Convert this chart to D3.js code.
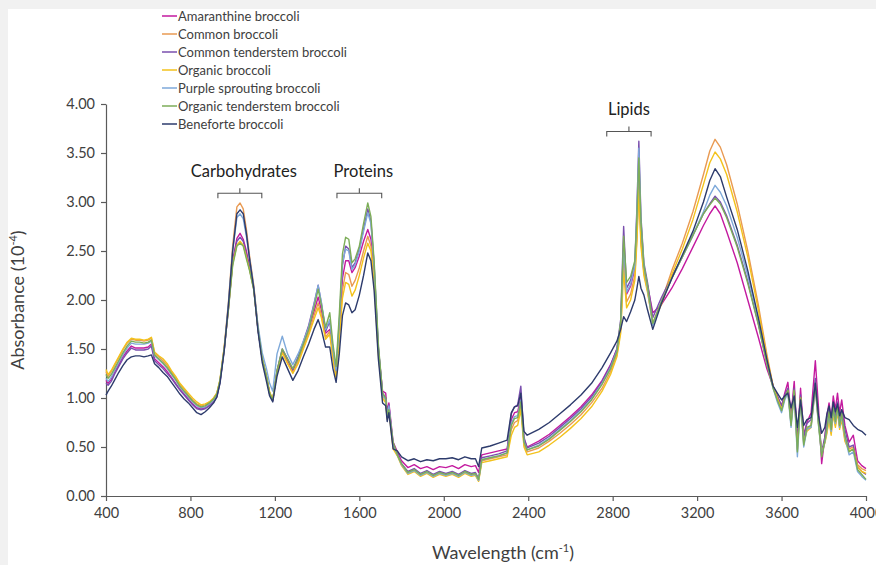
<!DOCTYPE html>
<html>
<head>
<meta charset="utf-8">
<script src="https://cdn.jsdelivr.net/npm/d3@7"></script>
<style>
  html, body { margin: 0; padding: 0; background: #f1f1f1; }
  svg { display: block; }
</style>
</head>
<body>
<svg id="chart" width="876" height="565"></svg>
<script>
// Wavenumber grid shared by all spectra (cm-1)
const wavenumbers = [
  400,410,425,440,460,480,500,520,540,560,580,600,615,630,650,670,690,710,730,750,770,790,810,830,850,870,890,910,925,
  940,960,980,1000,1020,1035,1050,1065,1080,1100,1120,1140,1160,1175,1190,
  1210,1235,1260,1285,1310,1335,1360,1385,1405,1420,1440,1460,1475,1490,1505,1520,1535,1550,1565,1580,1600,1620,1640,1655,1670,1690,1710,1725,1732,1740,1760,
  1780,1800,1830,1860,1890,1920,1950,1980,2010,2040,2070,2100,2130,2150,2165,2180,2220,2260,2300,2320,2335,2350,2365,2380,2395,
  2450,2500,2550,2600,2650,2700,2750,2790,2820,2838,2852,2866,2885,2905,2915,2924,2934,2948,2965,2990,
  3030,3080,3130,3180,3230,3260,3285,3310,3340,3390,3440,3490,3530,
  3560,3580,3600,3615,3630,3645,3660,3675,3690,3705,3720,3740,3760,3775,3790,3805,3815,3825,3835,3845,3855,3865,3875,3885,3900,3920,3940,3960,3980,4000
];

// Absorbance (x 10^-4) for each broccoli type
const amaranthine = [
  1.18,1.15,1.19,1.26,1.34,1.42,1.48,1.53,1.51,1.51,1.51,1.52,1.55,1.40,1.36,1.32,1.27,1.21,1.15,1.09,1.04,0.99,0.94,0.90,0.89,0.90,0.93,0.97,1.02,
  1.17,1.50,1.92,2.40,2.63,2.68,2.62,2.50,2.34,2.12,1.70,1.40,1.22,1.05,0.98,
  1.27,1.48,1.38,1.28,1.40,1.55,1.70,1.88,2.03,1.90,1.66,1.70,1.45,1.25,1.68,2.22,2.40,2.40,2.28,2.33,2.45,2.60,2.72,2.62,2.28,1.50,1.07,1.05,0.86,0.95,0.55,
  0.45,0.36,0.29,0.32,0.28,0.30,0.27,0.30,0.29,0.31,0.28,0.32,0.30,0.31,0.24,0.42,0.44,0.46,0.48,0.78,0.85,0.86,1.00,0.58,0.50,
  0.56,0.63,0.72,0.81,0.91,1.03,1.18,1.34,1.50,1.76,2.45,2.06,2.14,2.32,2.70,3.28,2.65,2.30,2.15,1.87,
  1.95,2.12,2.32,2.54,2.76,2.88,2.96,2.88,2.70,2.38,2.00,1.62,1.30,
  1.12,1.02,0.92,1.05,1.16,0.82,1.17,0.55,1.10,0.62,0.75,0.85,1.38,0.90,0.33,0.60,0.82,0.95,0.78,1.02,0.88,1.05,0.85,0.98,0.72,0.55,0.62,0.36,0.31,0.28
];
const commonBroccoli = [
  1.27,1.22,1.27,1.33,1.41,1.49,1.56,1.60,1.59,1.59,1.58,1.59,1.61,1.46,1.42,1.38,1.33,1.27,1.21,1.14,1.09,1.03,0.98,0.94,0.92,0.93,0.96,1.00,1.05,
  1.18,1.52,1.98,2.55,2.95,2.99,2.93,2.72,2.45,2.15,1.72,1.40,1.22,1.05,0.98,
  1.26,1.47,1.36,1.26,1.37,1.52,1.66,1.84,1.97,1.85,1.62,1.68,1.42,1.22,1.62,2.10,2.28,2.26,2.14,2.20,2.33,2.50,2.65,2.55,2.22,1.48,1.02,0.98,0.80,0.90,0.50,
  0.42,0.32,0.23,0.26,0.21,0.24,0.20,0.23,0.21,0.23,0.20,0.24,0.21,0.22,0.16,0.36,0.38,0.40,0.42,0.68,0.75,0.77,0.93,0.52,0.45,
  0.49,0.56,0.64,0.73,0.83,0.95,1.10,1.27,1.44,1.70,2.42,1.98,2.06,2.25,2.65,3.20,2.60,2.28,2.10,1.76,
  1.98,2.30,2.58,2.90,3.28,3.52,3.64,3.56,3.38,2.98,2.50,1.95,1.45,
  1.12,1.00,0.88,1.00,1.08,0.74,1.08,0.48,1.02,0.55,0.68,0.72,1.18,0.75,0.45,0.55,0.66,0.80,0.64,0.86,0.72,0.88,0.70,0.80,0.58,0.48,0.50,0.32,0.28,0.26
];
const commonTenderstem = [
  1.15,1.13,1.17,1.24,1.32,1.40,1.46,1.51,1.49,1.49,1.49,1.50,1.53,1.38,1.34,1.30,1.25,1.20,1.14,1.08,1.03,0.98,0.93,0.89,0.88,0.89,0.92,0.96,1.01,
  1.16,1.49,1.91,2.38,2.60,2.64,2.60,2.47,2.32,2.11,1.70,1.40,1.21,1.04,0.97,
  1.28,1.50,1.40,1.29,1.42,1.58,1.74,1.96,2.15,1.97,1.68,1.78,1.50,1.28,1.75,2.35,2.55,2.52,2.33,2.38,2.52,2.72,2.93,2.80,2.36,1.52,1.05,1.00,0.82,0.93,0.52,
  0.43,0.33,0.25,0.28,0.23,0.26,0.22,0.25,0.23,0.25,0.22,0.26,0.23,0.24,0.18,0.39,0.41,0.43,0.46,0.84,0.91,0.93,1.12,0.60,0.49,
  0.54,0.61,0.70,0.79,0.89,1.01,1.17,1.33,1.50,1.80,2.75,2.12,2.20,2.38,2.95,3.62,2.85,2.38,2.18,1.82,
  2.02,2.24,2.44,2.66,2.88,2.98,3.06,3.00,2.86,2.56,2.19,1.76,1.36,
  1.12,1.02,0.92,1.03,1.10,0.80,1.10,0.55,1.03,0.60,0.74,0.78,1.20,0.80,0.45,0.60,0.76,0.90,0.72,0.95,0.80,0.96,0.78,0.88,0.68,0.50,0.52,0.30,0.25,0.22
];
const organicBroccoli = [
  1.29,1.24,1.28,1.34,1.42,1.50,1.57,1.61,1.60,1.60,1.59,1.60,1.62,1.47,1.43,1.40,1.35,1.28,1.22,1.15,1.10,1.05,1.00,0.96,0.93,0.94,0.96,1.00,1.05,
  1.19,1.52,1.92,2.37,2.56,2.60,2.56,2.44,2.31,2.11,1.71,1.41,1.23,1.06,0.99,
  1.26,1.46,1.35,1.25,1.35,1.50,1.64,1.80,1.92,1.82,1.60,1.65,1.40,1.20,1.58,2.02,2.18,2.16,2.04,2.10,2.25,2.43,2.58,2.50,2.18,1.45,1.00,0.95,0.78,0.88,0.48,
  0.41,0.31,0.22,0.25,0.20,0.23,0.19,0.22,0.20,0.22,0.19,0.23,0.20,0.21,0.15,0.34,0.36,0.38,0.40,0.62,0.70,0.72,0.88,0.50,0.42,
  0.45,0.52,0.60,0.69,0.79,0.91,1.07,1.24,1.42,1.66,2.30,1.92,2.00,2.20,2.60,3.12,2.55,2.25,2.08,1.76,
  1.95,2.26,2.52,2.82,3.18,3.40,3.51,3.44,3.28,2.90,2.44,1.90,1.42,
  1.12,1.00,0.88,1.00,1.07,0.74,1.07,0.47,1.00,0.54,0.66,0.70,1.12,0.73,0.44,0.54,0.64,0.78,0.62,0.84,0.70,0.86,0.68,0.78,0.56,0.46,0.48,0.30,0.25,0.23
];
const purpleSprouting = [
  1.20,1.17,1.21,1.28,1.36,1.44,1.51,1.56,1.55,1.55,1.55,1.56,1.58,1.43,1.39,1.35,1.30,1.24,1.18,1.11,1.06,1.01,0.96,0.92,0.90,0.91,0.94,0.98,1.03,
  1.17,1.50,1.96,2.50,2.84,2.88,2.83,2.65,2.42,2.13,1.74,1.46,1.30,1.15,1.07,
  1.45,1.63,1.45,1.34,1.45,1.58,1.72,1.95,2.15,1.98,1.70,1.80,1.50,1.28,1.78,2.38,2.52,2.50,2.31,2.36,2.50,2.70,2.89,2.78,2.35,1.52,1.03,0.98,0.80,0.92,0.52,
  0.42,0.32,0.23,0.26,0.21,0.24,0.20,0.23,0.21,0.23,0.20,0.24,0.21,0.22,0.16,0.37,0.39,0.41,0.44,0.74,0.81,0.82,0.98,0.55,0.47,
  0.52,0.59,0.68,0.77,0.87,0.99,1.15,1.31,1.48,1.76,2.55,2.08,2.16,2.35,2.90,3.55,2.80,2.35,2.12,1.74,
  1.98,2.22,2.44,2.66,2.90,3.07,3.17,3.10,2.96,2.64,2.25,1.80,1.38,
  1.10,0.96,0.85,0.98,1.05,0.70,1.05,0.40,0.98,0.50,0.68,0.70,1.10,0.72,0.42,0.55,0.68,0.84,0.66,0.88,0.74,0.90,0.70,0.82,0.60,0.42,0.45,0.25,0.20,0.16
];
const organicTenderstem = [
  1.24,1.20,1.24,1.30,1.38,1.46,1.53,1.58,1.57,1.57,1.56,1.57,1.59,1.44,1.40,1.36,1.31,1.25,1.19,1.12,1.07,1.02,0.97,0.93,0.91,0.92,0.95,0.99,1.04,
  1.18,1.50,1.90,2.35,2.55,2.58,2.55,2.42,2.30,2.10,1.70,1.40,1.22,1.05,0.98,
  1.28,1.50,1.40,1.30,1.40,1.55,1.70,1.92,2.11,1.95,1.72,1.87,1.55,1.32,1.85,2.47,2.64,2.62,2.38,2.42,2.55,2.78,2.99,2.85,2.40,1.55,1.05,1.00,0.82,0.88,0.55,
  0.42,0.33,0.24,0.27,0.22,0.25,0.21,0.24,0.22,0.24,0.21,0.25,0.22,0.23,0.17,0.37,0.39,0.41,0.44,0.72,0.79,0.80,0.96,0.55,0.47,
  0.51,0.58,0.67,0.76,0.86,0.98,1.14,1.30,1.47,1.78,2.65,2.18,2.24,2.40,2.85,3.45,2.80,2.35,2.15,1.76,
  1.98,2.22,2.44,2.66,2.88,2.97,3.04,2.98,2.84,2.54,2.17,1.75,1.35,
  1.10,0.98,0.87,1.00,1.08,0.72,1.08,0.45,1.00,0.52,0.70,0.72,1.12,0.75,0.40,0.56,0.70,0.86,0.68,0.90,0.76,0.92,0.72,0.84,0.62,0.45,0.48,0.27,0.22,0.17
];
const beneforte = [
  1.03,1.07,1.12,1.18,1.26,1.33,1.39,1.42,1.43,1.43,1.42,1.43,1.44,1.35,1.31,1.26,1.22,1.16,1.10,1.04,0.99,0.95,0.90,0.85,0.83,0.86,0.90,0.95,1.01,
  1.15,1.48,1.95,2.50,2.88,2.92,2.88,2.68,2.42,2.12,1.68,1.36,1.17,1.02,0.96,
  1.22,1.42,1.30,1.18,1.28,1.42,1.55,1.70,1.80,1.70,1.52,1.52,1.30,1.16,1.45,1.84,1.97,1.95,1.87,1.90,2.05,2.25,2.48,2.40,2.10,1.40,0.95,0.92,0.76,0.85,0.48,
  0.46,0.40,0.36,0.38,0.35,0.37,0.36,0.38,0.38,0.39,0.37,0.40,0.38,0.38,0.30,0.49,0.51,0.54,0.57,0.85,0.91,0.92,1.05,0.66,0.62,
  0.68,0.75,0.84,0.93,1.03,1.15,1.31,1.46,1.58,1.70,1.83,1.78,1.88,2.00,2.12,2.24,2.12,2.05,1.90,1.70,
  1.96,2.22,2.46,2.70,3.00,3.22,3.34,3.26,3.05,2.72,2.30,1.82,1.40,
  1.12,1.05,0.98,1.02,1.05,0.90,1.02,0.70,0.98,0.72,0.78,0.80,1.15,0.82,0.64,0.70,0.84,0.92,0.80,0.96,0.86,0.94,0.82,0.88,0.80,0.78,0.72,0.68,0.66,0.62
];

const seriesNames = [
  "Amaranthine broccoli", "Common broccoli", "Common tenderstem broccoli", "Organic broccoli",
  "Purple sprouting broccoli", "Organic tenderstem broccoli", "Beneforte broccoli"
];
const seriesValues = [amaranthine, commonBroccoli, commonTenderstem, organicBroccoli,
  purpleSprouting, organicTenderstem, beneforte];
const seriesColors = ["#c31a9f", "#e99a52", "#7a4fae", "#f3c21c", "#7ea9da", "#7cad58", "#2d3b6c"];

const xTicks = [400, 800, 1200, 1600, 2000, 2400, 2800, 3200, 3600, 4000];
const yTicks = [0, 0.5, 1, 1.5, 2, 2.5, 3, 3.5, 4];

// Absorption band annotations: label, start and end wavenumber, bracket height (absorbance)
const bandLabels = ["Carbohydrates", "Proteins", "Lipids"];
const bandStart = [930, 1494, 2772];
const bandEnd = [1138, 1706, 2982];
const bandLevel = [3.09, 3.09, 3.72];

const W = 876, H = 565;
const FONT = "Lato, 'Open Sans', sans-serif";
const svg = d3.select("#chart");

// page frame: light grey border at the top and left, white sheet elsewhere
svg.append("rect").attr("width", W).attr("height", H).attr("fill", "#f1f1f1");
svg.append("rect").attr("x", 8).attr("y", 9).attr("width", W - 8).attr("height", H - 9).attr("fill", "#ffffff");

const x = d3.scaleLinear().domain([400, 4000]).range([106, 866]);
const y = d3.scaleLinear().domain([0, 4]).range([496, 104]);

const axisColor = "#5a5a5a";
const textColor = "#404040";

// axes
const gx = svg.append("g")
  .attr("transform", `translate(0,${y(0)})`)
  .call(d3.axisBottom(x).tickValues(xTicks).tickSize(5).tickSizeOuter(0).tickPadding(7).tickFormat(d3.format("d")));
const gy = svg.append("g")
  .attr("transform", `translate(${x(400)},0)`)
  .call(d3.axisLeft(y).tickValues(yTicks).tickSize(5).tickSizeOuter(0).tickPadding(6).tickFormat(d3.format(".2f")));
[gx, gy].forEach(g => {
  g.select(".domain").attr("stroke", axisColor).attr("stroke-width", 1.2);
  g.selectAll(".tick line").attr("stroke", axisColor).attr("stroke-width", 1.2);
  g.selectAll(".tick text").attr("fill", textColor).style("font-family", FONT).style("font-size", "14.5px");
});

// spectra, drawn in legend order
const line = d3.line()
  .x((d, i) => x(wavenumbers[i]))
  .y(d => y(d));
const plot = svg.append("g");
seriesValues.forEach((vals, k) => {
  plot.append("path")
    .datum(vals)
    .attr("fill", "none")
    .attr("stroke", seriesColors[k])
    .attr("stroke-width", 1.4)
    .attr("stroke-linejoin", "round")
    .attr("d", line);
});

// band brackets and labels
bandLabels.forEach((lab, i) => {
  const x0 = x(bandStart[i]), x1 = x(bandEnd[i]), yb = y(bandLevel[i]);
  const xm = (x0 + x1) / 2;
  svg.append("path")
    .attr("d", `M${x0},${yb + 5}V${yb}H${x1}V${yb + 5}M${xm},${yb}V${yb - 5}`)
    .attr("fill", "none").attr("stroke", "#555").attr("stroke-width", 1.1);
  svg.append("text")
    .attr("x", xm + (i < 2 ? 4 : 0)).attr("y", yb - 16)
    .attr("text-anchor", "middle")
    .attr("fill", "#222")
    .style("font-family", FONT).style("font-size", "16.5px")
    .text(lab);
});

// legend
const legend = svg.append("g");
seriesNames.forEach((name, i) => {
  const ly = 16 + i * 18;
  legend.append("line")
    .attr("x1", 162).attr("x2", 177).attr("y1", ly).attr("y2", ly)
    .attr("stroke", seriesColors[i]).attr("stroke-width", 1.5);
  legend.append("text")
    .attr("x", 178).attr("y", ly + 4.5)
    .attr("fill", textColor)
    .style("font-family", FONT).style("font-size", "13px")
    .text(name);
});

// axis titles
const xt = svg.append("text")
  .attr("x", 503).attr("y", 559)
  .attr("text-anchor", "middle").attr("fill", textColor)
  .style("font-family", FONT).style("font-size", "18px");
xt.append("tspan").text("Wavelength (cm");
xt.append("tspan").attr("dy", -7).style("font-size", "11px").text("-1");
xt.append("tspan").attr("dy", 7).text(")");

const yt = svg.append("text")
  .attr("transform", "translate(24,300) rotate(-90)")
  .attr("text-anchor", "middle").attr("fill", textColor)
  .style("font-family", FONT).style("font-size", "18px");
yt.append("tspan").text("Absorbance (10");
yt.append("tspan").attr("dy", -7).style("font-size", "11px").text("-4");
yt.append("tspan").attr("dy", 7).text(")");
</script>
</body>
</html>
